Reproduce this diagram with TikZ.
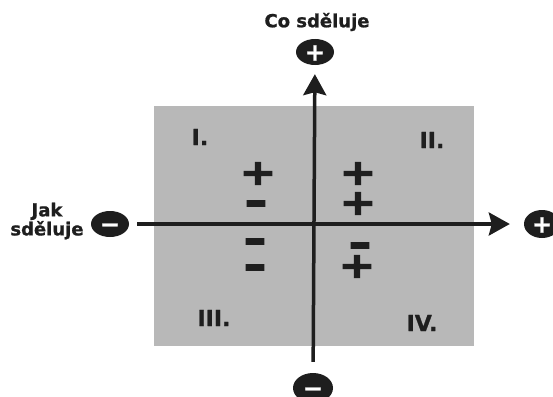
\documentclass[tikz,border=0pt]{standalone}
\usepackage{fontspec}
\setmainfont{DejaVu Sans}
\newfontfamily\heavyfont[FakeBold=3]{DejaVu Sans Bold}
\newfontfamily\labelfont[FakeBold=1]{DejaVu Sans Bold}
\usetikzlibrary{arrows.meta,shapes.geometric}
\definecolor{cPanel}{RGB}{184,184,184}
\definecolor{cInk}{RGB}{30,30,30}
\tikzset{
  pole/.style={ellipse,fill=cInk,text=white,inner sep=0pt,minimum width=38pt,minimum height=26pt,
    text height=17pt,text depth=0pt,font=\labelfont\fontsize{24}{24}\selectfont},
  lbl/.style={font=\labelfont\fontsize{18}{19}\selectfont,align=center,text=cInk},
  quad/.style={font=\labelfont\fontsize{22}{22}\selectfont,text=cInk},
  sgn/.style={inner sep=0pt,text height=25pt,text depth=0pt,text=cInk,font=\heavyfont\fontsize{44}{44}\selectfont},
  axis/.style={line width=3.5pt,draw=cInk,-{Stealth[length=21pt,width=23pt,inset=3pt]}}
}

\begin{document}
\begin{tikzpicture}[x=1pt,y=-1pt]
  \clip (0,0) rectangle (553,396);
  \fill[white] (0,0) rectangle (553,396);
  % shaded field
  \fill[cPanel] (154,106) rectangle (474,346);

  % poles of both axes
  \node[pole] (ytop) at (315,52) {+};
  \node[pole,minimum width=40pt,minimum height=30pt] (ybot) at (313,388) {−};
  \node[pole] (xleft) at (110,224) {−};
  \node[pole,minimum width=36pt,minimum height=28pt] (xright) at (542,224) {+};
  \node[lbl] (ytxt) at (317,22) {Co sděluje};
  \node[lbl] (xtxt) at (47,221) {Jak\\sděluje};

  \draw[axis,shorten <=11pt,shorten >=9pt] (ybot) -- (ytop);
  \draw[axis,shorten <=8pt,shorten >=14pt] (xleft) -- (xright);

  % quadrants
  \node[quad] (q1) at (200,137) {I.};
  \node[quad] (q2) at (432,140) {II.};
  \node[quad] (q3) at (214,318) {III.};
  \node[quad] (q4) at (422,323) {IV.};

  \node[sgn] (s1a) at (258,172) {\scalebox{1}[0.8]{+}};
  \node[sgn] (s1b) at (256,203) {–};
  \node[sgn] (s2a) at (358,172) {\scalebox{1}[0.8]{+}};
  \node[sgn] (s2b) at (358,202) {\scalebox{1}[0.8]{+}};
  \node[sgn] (s3a) at (255,241) {–};
  \node[sgn] (s3b) at (255,267) {–};
  \node[sgn] (s4a) at (360,245) {–};
  \node[sgn] (s4b) at (357,265) {\scalebox{1}[0.8]{+}};
\end{tikzpicture}
\end{document}
